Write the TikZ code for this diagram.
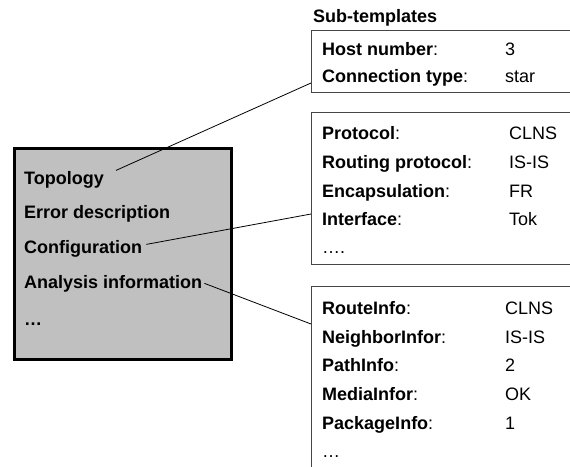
\documentclass[tikz,border=0pt]{standalone}
\usepackage{fontspec}
\setmainfont{Liberation Sans}
\definecolor{panel}{RGB}{192,192,192}
\definecolor{frame}{RGB}{70,70,70}
\begin{document}
\begin{tikzpicture}[x=1pt,y=-1pt,
  txt/.style={inner sep=0pt,anchor=base west,font=\fontsize{18}{22}\selectfont},
  hd/.style={txt,font=\fontsize{18}{22}\selectfont\bfseries},
  subbox/.style={draw=frame,line width=1pt,anchor=north west,minimum width=270pt,inner sep=0pt},
  mainbox/.style={draw=black,line width=2.8pt,fill=panel,anchor=north west,
    minimum width=217pt,minimum height=211pt,inner sep=0pt},
  link/.style={draw=black,line width=0.8pt}]
\useasboundingbox (0,0) rectangle (570,466);

% main template panel
\node[mainbox] (main) at (13,147) {};
\node[hd] (topo) at (24,184) {Topology};
\node[hd] (err)  at (24,218) {Error description};
\node[hd] (conf) at (24,253) {Configuration};
\node[hd] (ana)  at (24,288) {Analysis information};
\node[hd] (more) at (24,325) {\dots};

% sub-templates
\node[hd] (title) at (313,22) {Sub-templates};
\node[subbox,minimum height=62pt]  (box1) at (311,30)  {};
\node[subbox,minimum height=152pt] (box2) at (311,112) {};
\node[subbox,minimum height=200pt] (box3) at (311,286) {};

\foreach \n/\lab/\val/\yy in {
    h1/Host number/3/55,
    h2/Connection type/star/82}
  {\node[txt] (\n) at (322,\yy) {\textbf{\lab}:};
   \node[txt] (\n v) at (505,\yy) {\val};}

\foreach \n/\lab/\val/\yy in {
    c1/Protocol/CLNS/139,
    c2/Routing protocol/IS-IS/168,
    c3/Encapsulation/FR/197,
    c4/Interface/Tok/225}
  {\node[txt] (\n) at (322,\yy) {\textbf{\lab}:};
   \node[txt] (\n v) at (509,\yy) {\val};}
\node[txt] (c5) at (322,253) {\dots.};

\foreach \n/\lab/\val/\yy in {
    a1/RouteInfo/CLNS/314,
    a2/NeighborInfor/IS-IS/343,
    a3/PathInfo/2/371,
    a4/MediaInfor/OK/400,
    a5/PackageInfo/1/429}
  {\node[txt] (\n) at (322,\yy) {\textbf{\lab}:};
   \node[txt] (\n v) at (505,\yy) {\val};}
\node[txt] (a6) at (322,457) {\dots};

% connectors from panel entries to their sub-templates
\draw[link] ([xshift=12pt,yshift=9pt]topo.east) -- ([yshift=10pt]box1.south west);
\draw[link] ([xshift=4pt,yshift=4pt]conf.east) -- ([yshift=51pt]box2.south west);
\draw[link] ([xshift=2pt]ana.east) -- ([yshift=-38pt]box3.north west);
\end{tikzpicture}
\end{document}
